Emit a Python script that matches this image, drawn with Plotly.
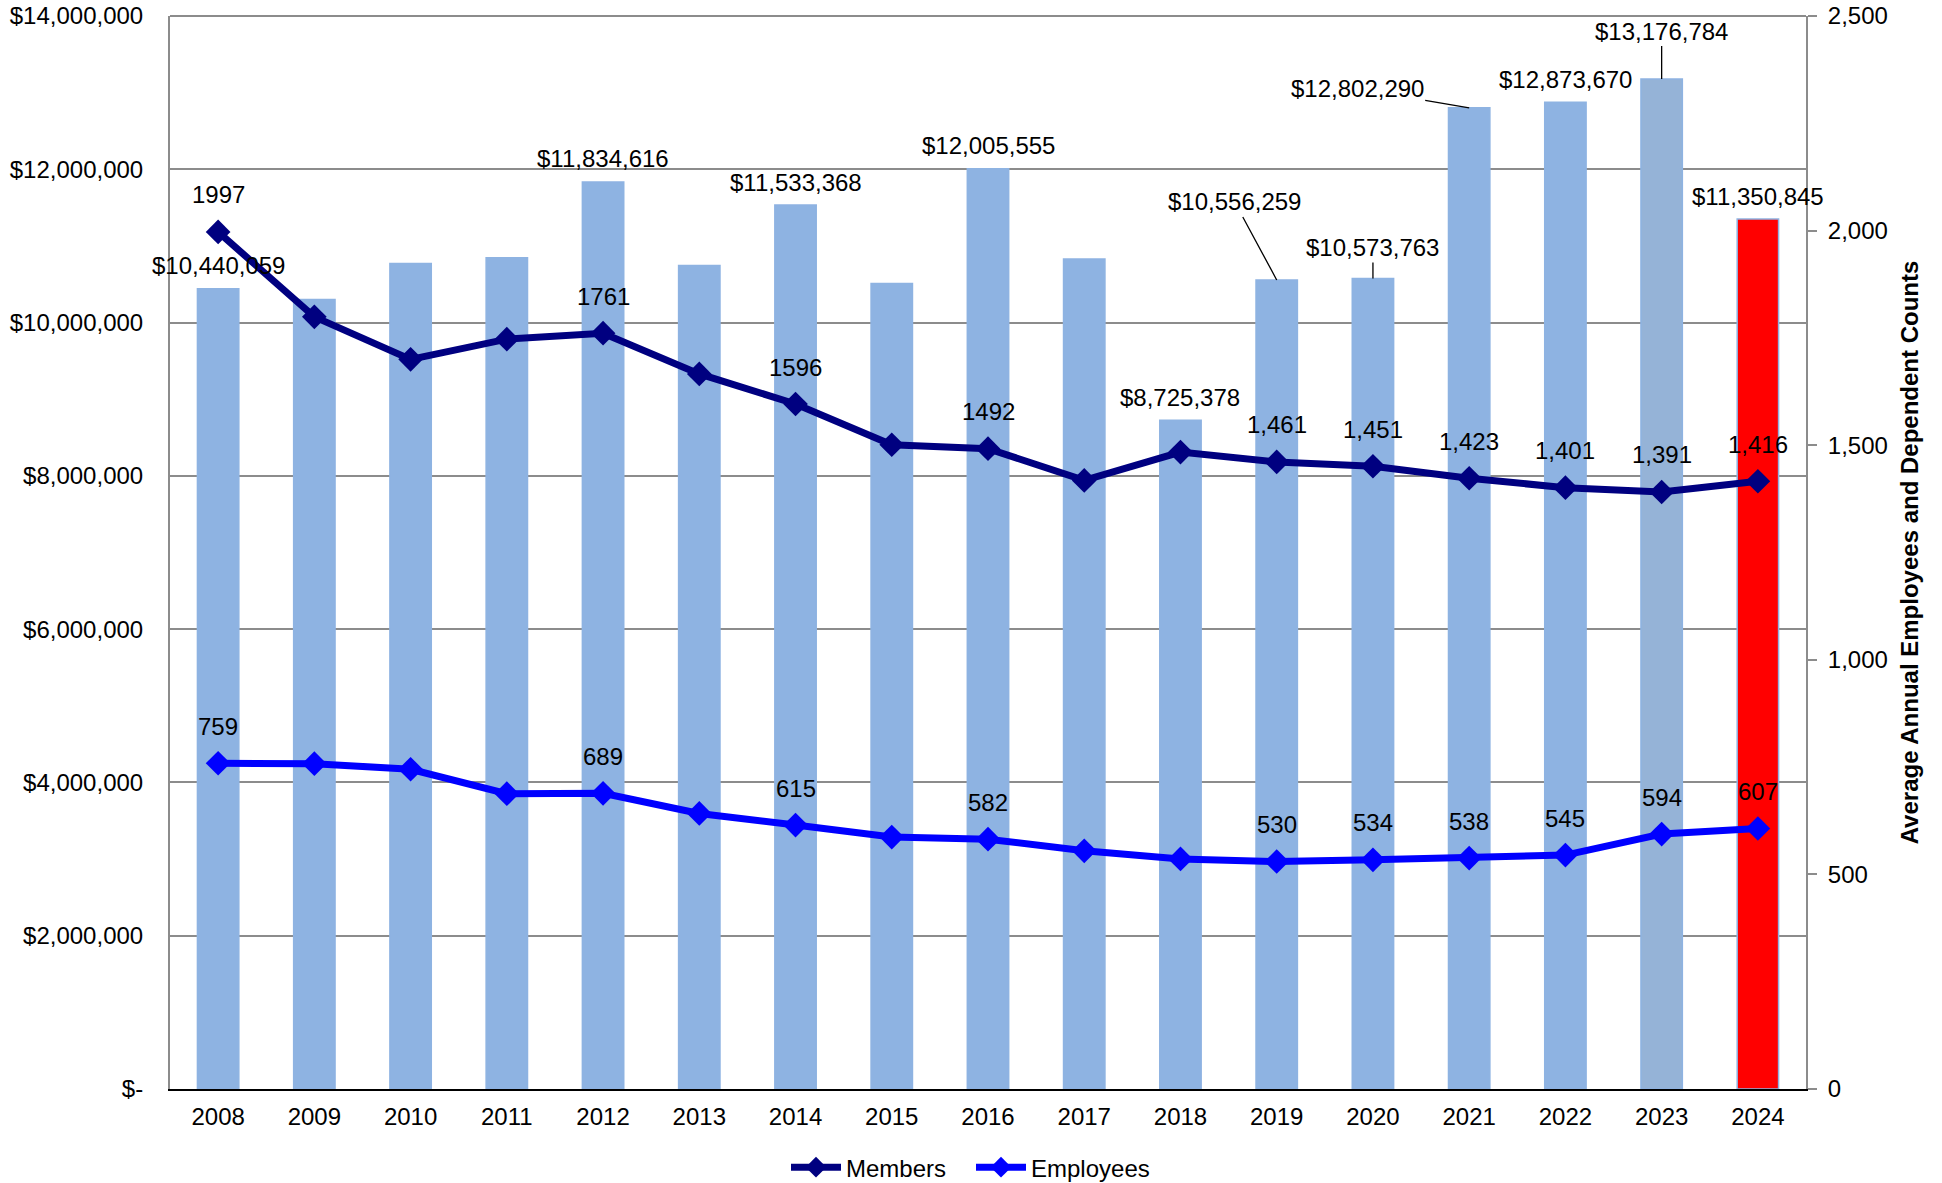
import plotly.graph_objects as go

# ---- data ----
years = ["2008", "2009", "2010", "2011", "2012", "2013", "2014", "2015", "2016",
         "2017", "2018", "2019", "2020", "2021", "2022", "2023", "2024"]
claims_cost = [10440059, 10300000, 10772000, 10845000, 11834616, 10746000, 11533368,
               10510000, 12005555, 10830000, 8725378, 10556259, 10573763, 12802290,
               12873670, 13176784, 11350845]
cost_labels = ["$10,440,059", "", "", "", "$11,834,616", "", "$11,533,368", "",
               "$12,005,555", "", "$8,725,378", "$10,556,259", "$10,573,763",
               "$12,802,290", "$12,873,670", "$13,176,784", "$11,350,845"]
members = [1997, 1799, 1700, 1747, 1761, 1666, 1596, 1501, 1492, 1418, 1484,
           1461, 1451, 1423, 1401, 1391, 1416]
member_labels = ["1997", "", "", "", "1761", "", "1596", "", "1492", "", "",
                 "1,461", "1,451", "1,423", "1,401", "1,391", "1,416"]
employees = [759, 758, 745, 688, 689, 642, 615, 587, 582, 555, 536,
             530, 534, 538, 545, 594, 607]
employee_labels = ["759", "", "", "", "689", "", "615", "", "582", "", "",
                   "530", "534", "538", "545", "594", "607"]
left_tick_vals = [0, 2000000, 4000000, 6000000, 8000000, 10000000, 12000000, 14000000]
left_tick_text = ["$-", "$2,000,000", "$4,000,000", "$6,000,000", "$8,000,000",
                  "$10,000,000", "$12,000,000", "$14,000,000"]
right_tick_vals = [0, 500, 1000, 1500, 2000, 2500]
right_tick_text = ["0", "500", "1,000", "1,500", "2,000", "2,500"]
right_title = "Average Annual Employees and Dependent Counts"

# ---- styles ----
FONT = "Liberation Sans, Arial, sans-serif"
BAR_BLUE = "#8EB3E2"
bar_colors = []
for y in years:
    if y == "2024":
        bar_colors.append("#FF0000")
    elif y == "2023":
        bar_colors.append("#95B3D7")
    else:
        bar_colors.append(BAR_BLUE)

fig = go.Figure()
fig.add_trace(go.Bar(
    x=years, y=claims_cost, marker=dict(color=bar_colors, line=dict(color=BAR_BLUE, width=1.5)),
    showlegend=False, hoverinfo="skip"))
fig.add_trace(go.Scatter(
    x=years, y=members, yaxis="y2", name="Members", mode="lines+markers",
    line=dict(color="#000080", width=7),
    marker=dict(symbol="diamond", size=19, color="#000080")))
fig.add_trace(go.Scatter(
    x=years, y=employees, yaxis="y2", name="Employees", mode="lines+markers",
    line=dict(color="#0000FF", width=7),
    marker=dict(symbol="diamond", size=19, color="#0000FF")))

annotations = []
# leader-line offsets (pixels) for a few cost labels, like the reference callouts
leaders = {"2019": (-42, -78), "2020": (0, -31), "2021": (-112, -19), "2023": (0, -48)}
for i, (yr, v, t) in enumerate(zip(years, claims_cost, cost_labels)):
    if not t:
        continue
    if yr in leaders:
        ax, ay = leaders[yr]
        annotations.append(dict(x=i, y=v, xref="x", yref="y", text=t, showarrow=True,
                                arrowhead=0, arrowwidth=1.3, arrowcolor="black",
                                ax=ax, ay=ay, font=dict(size=24, color="black", family=FONT)))
    else:
        annotations.append(dict(x=i, y=v, xref="x", yref="y", text=t, showarrow=False,
                                yshift=23, font=dict(size=24, color="black", family=FONT)))
for vals, labs in ((members, member_labels), (employees, employee_labels)):
    for i, (v, t) in enumerate(zip(vals, labs)):
        if not t:
            continue
        annotations.append(dict(x=i, y=v, xref="x", yref="y2", text=t, showarrow=False,
                                yshift=37, font=dict(size=24, color="black", family=FONT)))

fig.update_layout(
    width=1942, height=1183, autosize=False,
    margin=dict(l=170, r=136, t=16, b=94, autoexpand=False),
    paper_bgcolor="white", plot_bgcolor="white",
    font=dict(family=FONT, size=24, color="black"),
    bargap=0.57,
    xaxis=dict(type="category", range=[-0.5, len(years) - 0.5], autorange=False,
               showgrid=False, showline=True, linecolor="black",
               linewidth=2, ticks="", tickfont=dict(size=24), ticklabelstandoff=5,
               zeroline=False, automargin=False, ticklabeloverflow="allow"),
    yaxis=dict(range=[0, 14000000], tickvals=left_tick_vals, ticktext=left_tick_text,
               showgrid=True, gridcolor="#8C8C8C", gridwidth=2, showline=True,
               linecolor="#8C8C8C", linewidth=2, ticks="", zeroline=False,
               tickfont=dict(size=24), ticklabelstandoff=20, automargin=False,
               ticklabeloverflow="allow"),
    yaxis2=dict(range=[0, 2500], tickvals=right_tick_vals, ticktext=right_tick_text,
                overlaying="y", side="right", showgrid=False, showline=True,
                linecolor="#8C8C8C", linewidth=2, ticks="outside", ticklen=9,
                tickcolor="#8C8C8C", tickwidth=2, zeroline=False,
                tickfont=dict(size=24), ticklabelstandoff=6, automargin=False,
                ticklabeloverflow="allow",
                title=dict(text="<b>" + right_title + "</b>", font=dict(size=24),
                           standoff=14)),
    legend=dict(orientation="h", xref="container", yref="container", x=0.5, y=0.013,
                xanchor="center", yanchor="middle", font=dict(size=24),
                itemwidth=50, entrywidth=120, entrywidthmode="pixels",
                bgcolor="rgba(0,0,0,0)"),
    annotations=annotations,
    shapes=[dict(type="line", xref="paper", yref="paper", x0=0, x1=1, y0=1, y1=1,
                 line=dict(color="#8C8C8C", width=2))],
)

fig.write_html("out.html", config={"displayModeBar": False},
               post_script="document.body.style.margin='0';document.body.style.overflow='hidden';")
